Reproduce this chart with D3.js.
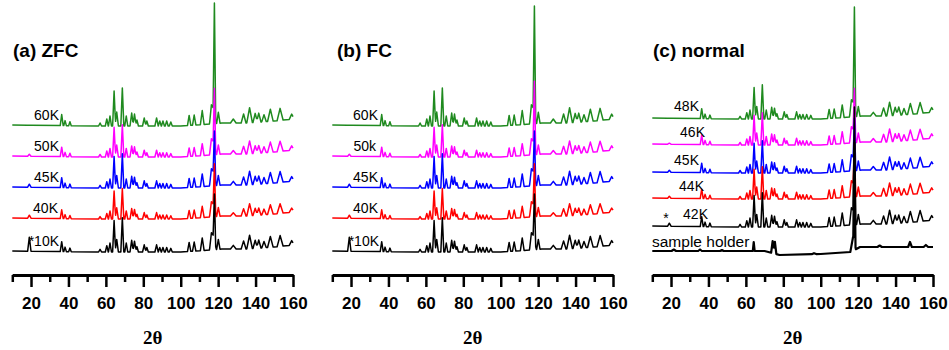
<!DOCTYPE html>
<html>
<head>
<meta charset="utf-8">
<script src="https://cdn.jsdelivr.net/npm/d3@7"></script>
<style>
  body { margin: 0; background: #fff; }
</style>
</head>
<body>
<div id="chart"></div>
<script>
const peakPos    = [36.4, 38.2, 40.8, 56.9, 60.5, 62.2, 64.4, 65.8, 68.8, 70.9, 73.8, 75.3, 76.6, 80.5, 81.9, 87.1, 88.8, 90.5, 92.5, 94.7, 104.5, 107.2, 111.5, 116.4, 117.3, 120.1, 128.1, 133.6, 136.8, 139.8, 141.7, 144.5, 147.9, 153.1, 159.3];
const peakHeight = [11, 5, 4, 3, 7, 10, 35, 14, 38, 10, 13, 12, 6, 8, 5, 8, 5, 5, 5, 4, 10, 10, 14, 12, 14, 11, 4, 9, 15, 9, 9, 7, 12, 12, 5];
const peakWidth  = [0.8, 0.7, 0.7, 0.8, 0.8, 0.8, 0.8, 0.9, 0.8, 0.8, 0.9, 0.9, 0.8, 0.9, 0.8, 0.9, 0.8, 0.8, 0.8, 0.8, 0.9, 0.9, 1.0, 1.1, 1.8, 0.9, 1.5, 1.3, 1.5, 1.2, 1.2, 1.2, 1.5, 1.6, 1.3];
// the strongest reflection and the impurity peak marked with *, heights given per trace
const mainPos = 118, mainWidth = 0.7;
const starPos = 19.1, starWidth = 0.9;

// slowly varying background under the sample patterns
const bgPos = [10, 55, 100, 112, 122, 135, 150, 160];
const bgVal = [0, -1, -1, 0.5, 2, 2, 4, 6];

// empty sample holder
const holderPos    = [21.5, 35.5, 47.2, 64.2, 74.3, 75.5, 96.4, 117.3, 118, 131.5, 147.7, 156.2];
const holderHeight = [1.5, 1.5, 1, 9, 12, 12, 1, 14, 100, 1.5, 5, 2];
const holderWidth  = [1.2, 1.0, 1.0, 0.5, 0.8, 0.8, 1.2, 1.5, 0.6, 1.2, 1.0, 1.2];
const holderBgPos  = [10, 70, 78, 100, 116, 121, 160];
const holderBgVal  = [0, 0, -4, -3, -1, 4, 4];

const panelTitles = ["(a) ZFC", "(b) FC", "(c) normal"];

const labelsA = ["60K", "50K", "45K", "40K", "*10K"];
const scaleA  = [1, 0.85, 0.9, 0.8, 0.9];
const mainA   = [112, 59, 47, 46, 48];
const starA   = [0, 2, 3, 3, 14];
const offsetA = [150, 119, 88, 57, 24];

const labelsB = ["60K", "50k", "45K", "40K", "*10K"];
const scaleB  = [1, 0.85, 0.9, 0.8, 0.9];
const mainB   = [109, 66, 47, 46, 48];
const starB   = [0, 2, 3, 3, 14];
const offsetB = [150, 119, 88, 57, 24];

const labelsC = ["48K", "46K", "45K", "44K", "42K", "sample holder"];
const scaleC  = [0.9, 0.85, 0.85, 0.85, 0.9];
const mainC   = [102, 47, 45, 45, 110];
const starC   = [0, 1, 2, 2, 3];
const offsetC = [157, 131, 103, 77, 49, 24];

const xTicksMajor = [20, 40, 60, 80, 100, 120, 140, 160];
const xTicksMinor = [10, 30, 50, 70, 90, 110, 130, 150];

const colors = ["#1f8a1f", "#ff00ff", "#0000ff", "#ff0000", "#000000", "#000000"];

const W = 949, H = 350;
const panelX = [0, 320, 640];
const titleX = [13, 17, 13];
const labelEnd = [[59, 59, 59, 58, 59], [58, 56, 58, 58, 59], [59, 65, 59, 64, 68, 0]];
const axisY = 275;

const svg = d3.select("#chart").append("svg")
  .attr("width", W).attr("height", H)
  .style("font-family", "Arial, 'Liberation Sans', sans-serif");

const x = d3.scaleLinear().domain([10, 160]).range([12.3, 293]);
const y = d3.scaleLinear().domain([0, 275]).range([axisY, 0]);

// piecewise-linear pattern: background plus triangular peaks, evaluated at every break point
function pattern(pos, hgt, wid, bgP, bgV, offset) {
  const bg = d3.scaleLinear().domain(bgP).range(bgV);
  const xs = new Set([10, 160, ...bgP]);
  pos.forEach((p, i) => { xs.add(p - wid[i]); xs.add(p); xs.add(p + wid[i]); });
  return [...xs].filter(v => v >= 10 && v <= 160).sort((a, b) => a - b).map(t => {
    let v = bg(t);
    pos.forEach((p, i) => {
      const d = Math.abs(t - p);
      if (d < wid[i]) v += hgt[i] * (1 - d / wid[i]);
    });
    return [t, v + offset];
  });
}

function samplePattern(scale, main, star, offset) {
  const pos = [starPos, ...peakPos, mainPos];
  const hgt = [star, ...peakHeight.map(h => h * scale), main];
  const wid = [starWidth, ...peakWidth, mainWidth];
  return pattern(pos, hgt, wid, bgPos, bgVal, offset);
}

const line = d3.line().x(d => x(d[0])).y(d => y(d[1]));

const panels = [
  { labels: labelsA, scale: scaleA, main: mainA, star: starA, offset: offsetA, labelDy: 5 },
  { labels: labelsB, scale: scaleB, main: mainB, star: starB, offset: offsetB, labelDy: 5 },
  { labels: labelsC, scale: scaleC, main: mainC, star: starC, offset: offsetC, labelDy: 7 }
];

panels.forEach((p, pi) => {
  const g = svg.append("g").attr("transform", `translate(${panelX[pi]},0)`);

  g.append("text")
    .attr("x", titleX[pi]).attr("y", 57)
    .attr("font-size", 19).attr("font-weight", "bold")
    .text(panelTitles[pi]);

  // traces, top one first so the lower ones lie over its peaks
  p.labels.forEach((lab, i) => {
    const isHolder = pi === 2 && i === 5;
    const data = isHolder
      ? pattern(holderPos, holderHeight, holderWidth, holderBgPos, holderBgVal, p.offset[i])
      : samplePattern(p.scale[i], p.main[i], p.star[i], p.offset[i]);
    g.append("path")
      .datum(data)
      .attr("fill", "none")
      .attr("stroke", colors[i])
      .attr("stroke-width", isHolder ? 2.2 : 1.5)
      .attr("stroke-linejoin", "round")
      .attr("d", line);
  });

  // trace labels
  p.labels.forEach((lab, i) => {
    const t = g.append("text")
      .attr("y", y(p.offset[i]) - p.labelDy)
      .attr("font-size", 14);
    if (pi === 2 && i === 5) {
      t.attr("x", 12).attr("y", y(p.offset[i]) - 4).attr("font-size", 15.5).text(lab);
    } else {
      t.attr("x", labelEnd[pi][i]).attr("text-anchor", "end").text(lab);
    }
  });
  if (pi === 2) {
    g.append("text")
      .attr("x", 26).attr("y", y(p.offset[4]) - 3)
      .attr("text-anchor", "middle").attr("font-size", 14)
      .text("*");
  }

  // x axis with major (labelled) and minor ticks
  const major = g.append("g").attr("transform", `translate(0,${axisY})`)
    .call(d3.axisBottom(x).tickValues(xTicksMajor).tickSize(12).tickSizeOuter(0).tickPadding(10).tickFormat(d3.format("d")));
  const minor = g.append("g").attr("transform", `translate(0,${axisY})`)
    .call(d3.axisBottom(x).tickValues(xTicksMinor).tickSize(7).tickSizeOuter(0).tickFormat(""));
  [major, minor].forEach(a => {
    a.select(".domain").attr("stroke-width", 3);
    a.selectAll(".tick line").attr("stroke-width", 2.5);
  });
  major.selectAll(".tick text")
    .attr("font-size", 17).attr("font-weight", "bold")
    .attr("font-family", "Arial, 'Liberation Sans', sans-serif")
    .attr("fill", "#000");

  g.append("text")
    .attr("x", (x.range()[0] + x.range()[1]) / 2).attr("y", 344)
    .attr("text-anchor", "middle")
    .attr("font-family", "'Times New Roman', 'Liberation Serif', serif")
    .attr("font-size", 19).attr("font-weight", "bold")
    .text("2θ");
});
</script>
</body>
</html>
